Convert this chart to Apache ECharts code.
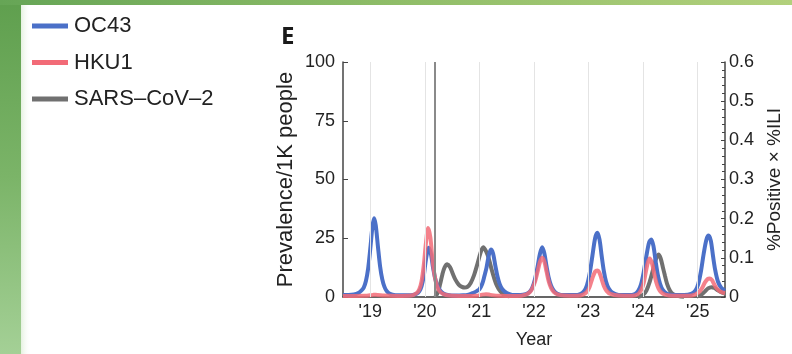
<!DOCTYPE html>
<html>
<head>
<meta charset="utf-8">
<script src="https://cdn.jsdelivr.net/npm/echarts@6/dist/echarts.min.js"></script>
<style>
html,body{margin:0;padding:0;background:#fff;}
#chart{width:792px;height:354px;}
</style>
</head>
<body>
<div id="chart"></div>
<script>
// ---- tick labels / categories ----
const yearTicks = [2019, 2020, 2021, 2022, 2023, 2024, 2025];
const yearLabels = ["'19", "'20", "'21", "'22", "'23", "'24", "'25"];
const leftTicks = [0, 25, 50, 75, 100];
const rightTicks = [0, 0.1, 0.2, 0.3, 0.4, 0.5, 0.6];
const seriesNames = ["OC43", "HKU1", "SARS\u2013CoV\u20132"];
const covidStart = 2020.19;

// ---- OC43 (prevalence per 1K people) ----
const oc43X = [2018.50,2018.60,2018.70,2018.78,2018.84,2018.88,2018.92,2018.96,2019.00,2019.04,2019.07,2019.10,2019.14,2019.18,2019.22,2019.26,2019.30,2019.36,2019.46,2019.60,
  2019.75,2019.85,2019.90,2019.94,2019.98,2020.02,2020.07,2020.11,2020.15,2020.19,2020.23,2020.28,2020.34,2020.42,2020.55,
  2020.70,2020.80,2020.88,2020.95,2021.00,2021.05,2021.09,2021.13,2021.17,2021.21,2021.25,2021.29,2021.33,2021.37,2021.42,2021.50,2021.60,
  2021.75,2021.85,2021.92,2021.97,2022.02,2022.07,2022.11,2022.15,2022.19,2022.23,2022.27,2022.31,2022.36,2022.43,2022.55,
  2022.75,2022.85,2022.92,2022.97,2023.02,2023.07,2023.12,2023.16,2023.20,2023.24,2023.28,2023.32,2023.37,2023.44,2023.55,
  2023.75,2023.85,2023.91,2023.96,2024.01,2024.06,2024.11,2024.15,2024.19,2024.23,2024.27,2024.31,2024.36,2024.43,2024.55,
  2024.75,2024.88,2024.96,2025.01,2025.06,2025.11,2025.16,2025.20,2025.24,2025.28,2025.32,2025.37,2025.43,2025.50];
const oc43Y = [0.9,0.9,1.1,1.7,2.8,4.0,6.8,12.0,20.5,30.0,33.5,30.5,21.5,13.0,7.5,4.3,2.6,1.4,0.8,0.7,
  0.8,1.4,2.5,4.6,9.0,16.0,21.0,18.5,12.5,7.8,4.8,2.8,1.5,0.9,0.6,
  0.7,1.0,1.7,2.5,3.3,5.5,8.8,12.5,17.5,20.2,18.5,13.5,8.8,5.6,3.3,1.7,0.9,
  0.8,1.2,2.2,4.0,7.8,13.5,18.5,21.2,18.5,13.0,8.2,5.0,2.8,1.4,0.8,
  0.8,1.3,2.6,5.0,10.0,17.5,25.0,27.3,24.5,17.5,11.0,6.6,3.6,1.8,0.9,
  0.8,1.3,2.6,5.3,10.5,17.5,23.3,24.5,21.5,15.0,9.3,5.6,3.0,1.5,0.8,
  0.8,1.3,2.8,5.5,11.0,18.5,24.5,26.2,24.0,17.5,11.5,6.6,4.0,2.7];

// ---- HKU1 (prevalence per 1K people) ----
const hku1X = [2018.50,2018.90,2019.05,2019.10,2019.25,2019.50,
  2019.75,2019.85,2019.90,2019.94,2019.98,2020.02,2020.06,2020.10,2020.14,2020.18,2020.22,2020.27,2020.34,2020.45,
  2020.70,2020.95,2021.05,2021.12,2021.20,2021.35,
  2021.70,2021.85,2021.92,2021.97,2022.02,2022.07,2022.11,2022.15,2022.19,2022.23,2022.27,2022.31,2022.36,2022.43,2022.55,
  2022.80,2022.90,2022.97,2023.02,2023.07,2023.12,2023.16,2023.20,2023.24,2023.28,2023.33,2023.40,2023.55,
  2023.80,2023.90,2023.96,2024.01,2024.05,2024.09,2024.12,2024.16,2024.20,2024.24,2024.28,2024.33,2024.40,2024.55,
  2024.85,2024.95,2025.02,2025.08,2025.13,2025.18,2025.22,2025.26,2025.30,2025.35,2025.42,2025.50];
const hku1Y = [0.4,0.5,0.9,1.0,0.6,0.4,
  0.6,1.7,3.4,6.8,13.5,23.0,29.4,25.5,16.0,9.0,4.8,2.5,1.2,0.6,
  0.4,0.5,1.0,1.2,0.9,0.5,
  0.4,1.0,2.0,3.7,6.6,11.2,15.0,16.7,15.0,10.8,6.6,4.0,2.2,1.1,0.6,
  0.5,1.0,2.2,4.4,8.0,10.8,11.3,10.3,7.5,4.7,2.6,1.3,0.6,
  0.5,1.1,2.8,6.0,10.8,15.0,16.4,14.5,10.3,6.3,3.7,2.0,1.0,0.5,
  0.5,1.0,2.0,3.8,6.1,7.6,7.9,7.2,5.5,3.6,2.2,1.6];

// ---- SARS-CoV-2 (prevalence per 1K people); null = no visible signal ----
const covX = [2020.19,2020.24,2020.28,2020.32,2020.36,2020.41,2020.46,2020.51,2020.56,2020.62,2020.68,2020.73,2020.78,2020.84,2020.90,2020.96,2021.02,2021.07,
  2021.12,2021.17,2021.22,2021.27,2021.32,2021.38,2021.45,2021.55,2021.60,
  2023.90,2024.00,2024.06,2024.12,2024.18,2024.23,2024.28,2024.32,2024.36,2024.40,2024.44,2024.49,2024.55,2024.65,2024.75,2024.80,
  2024.98,2025.07,2025.13,2025.19,2025.25,2025.31,2025.37,2025.44,2025.50];
const covY = [0.0,2.0,5.5,9.5,12.5,13.9,12.8,10.0,7.4,5.3,4.3,4.0,4.3,6.0,9.2,13.8,18.8,21.2,
  19.5,16.5,12.0,8.0,4.8,2.5,0.9,0.3,null,
  0.0,0.9,2.7,6.4,11.5,15.8,18.1,16.5,12.8,9.0,5.5,2.8,1.2,0.4,0.1,null,
  0.2,1.0,2.3,3.7,4.2,3.8,2.8,1.9,1.4];

const pairs = (xs, ys) => xs.map((x, i) => [x, ys[i] === null ? '-' : ys[i]]);

const FONT = "'Liberation Sans', Arial, sans-serif";
const AXIS_COLOR = '#444';
const TEXT_COLOR = '#222';

const chart = echarts.init(document.getElementById('chart'), null, {renderer: 'canvas'});

const option = {
  backgroundColor: '#ffffff',
  animation: false,
  graphic: [
    {type: 'rect', left: 0, top: 0, z: -10, shape: {width: 21, height: 354},
     style: {fill: new echarts.graphic.LinearGradient(0, 0, 0, 1, [
       {offset: 0, color: '#5f9f4e'}, {offset: 0.5, color: '#7bb468'}, {offset: 1, color: '#a4d096'}])}},
    {type: 'rect', left: 21, top: 5, z: -10, shape: {width: 10, height: 349},
     style: {fill: new echarts.graphic.LinearGradient(0, 0, 1, 0, [
       {offset: 0, color: 'rgba(150,200,130,0.25)'}, {offset: 1, color: 'rgba(255,255,255,0)'}])}},
    {type: 'rect', left: 0, top: 0, z: -10, shape: {width: 792, height: 5},
     style: {fill: new echarts.graphic.LinearGradient(0, 0, 1, 0, [
       {offset: 0, color: '#66a556'}, {offset: 0.5, color: '#8fbd68'}, {offset: 1, color: '#b2d07c'}])}}
  ],
  title: {
    text: 'E', left: 276, top: 20,
    textStyle: {fontSize: 24, fontWeight: 'bold', color: '#1a1a1a', fontFamily: "'Open Sans', 'Liberation Sans', sans-serif"}
  },
  legend: {
    data: seriesNames,
    orient: 'vertical', left: 27, top: 10,
    icon: 'rect', itemWidth: 36, itemHeight: 5, itemGap: 14.5,
    textStyle: {fontSize: 22, lineHeight: 22, color: TEXT_COLOR, fontFamily: FONT, padding: [0, 0, 0, 1]}
  },
  grid: {left: 343, right: 67, top: 62, bottom: 56, containLabel: false},
  xAxis: {
    type: 'value', min: 2018.5, max: 2025.5,
    name: 'Year', nameLocation: 'middle', nameGap: 34,
    nameTextStyle: {fontSize: 18, color: TEXT_COLOR, fontFamily: FONT},
    axisLine: {show: true, lineStyle: {color: '#333', width: 1.5}},
    axisTick: {show: true, inside: true, length: 4, customValues: yearTicks, lineStyle: {color: '#333'}},
    axisLabel: {
      customValues: yearTicks, margin: 6, fontSize: 18, color: TEXT_COLOR, fontFamily: FONT,
      formatter: v => { const i = yearTicks.indexOf(Math.round(v)); return i >= 0 ? yearLabels[i] : ''; }
    },
    splitLine: {show: false}
  },
  yAxis: [
    {
      type: 'value', min: 0, max: 100, interval: 25, position: 'left',
      name: 'Prevalence/1K people', nameLocation: 'middle', nameGap: 46, nameRotate: 90,
      nameTextStyle: {fontSize: 22, color: TEXT_COLOR, fontFamily: FONT},
      axisLine: {show: true, lineStyle: {color: AXIS_COLOR, width: 1.5}},
      axisTick: {show: true, inside: true, length: 5, lineStyle: {color: AXIS_COLOR}},
      axisLabel: {margin: 8, fontSize: 18, color: TEXT_COLOR, fontFamily: FONT,
        formatter: v => leftTicks.includes(v) ? String(v) : ''},
      splitLine: {show: false}
    },
    {
      type: 'value', min: 0, max: 0.6, interval: 0.1, position: 'right',
      name: '%Positive \u00d7 %ILI', nameLocation: 'middle', nameGap: 40, nameRotate: 90,
      nameTextStyle: {fontSize: 19, color: TEXT_COLOR, fontFamily: FONT},
      axisLine: {show: true, lineStyle: {color: AXIS_COLOR, width: 1.5}},
      axisTick: {show: true, inside: true, length: 4, lineStyle: {color: AXIS_COLOR}},
      minorTick: {show: true, splitNumber: 5, length: 3, lineStyle: {color: AXIS_COLOR}},
      axisLabel: {margin: 4, fontSize: 18, color: TEXT_COLOR, fontFamily: FONT,
        formatter: v => { const r = rightTicks.find(t => Math.abs(t - v) < 1e-9); return r === undefined ? '' : (r === 0 ? '0' : r.toFixed(1)); }},
      splitLine: {show: false}
    }
  ],
  series: [
    {
      name: 'yearGrid', type: 'line', data: [], z: 0, silent: true,
      markLine: {
        silent: true, symbol: 'none', label: {show: false},
        lineStyle: {color: '#e4e4e4', width: 1, type: 'solid'},
        data: yearTicks.map(y => ({xAxis: y}))
      }
    },
    {
      name: 'covidMarker', type: 'line', data: [], z: 1, silent: true,
      markLine: {
        silent: true, symbol: 'none', label: {show: false},
        lineStyle: {color: '#8a8a8a', width: 2, type: 'solid'},
        data: [{xAxis: covidStart}]
      }
    },
    {
      name: seriesNames[2], type: 'line', data: pairs(covX, covY), smooth: 0.3, connectNulls: false,
      showSymbol: false, symbol: 'none', color: '#707070',
      lineStyle: {width: 4, color: '#707070'}, z: 2
    },
    {
      name: seriesNames[0], type: 'line', data: pairs(oc43X, oc43Y), smooth: 0.3,
      showSymbol: false, symbol: 'none', color: '#4b70c8',
      lineStyle: {width: 4, color: '#4b70c8'}, z: 3
    },
    {
      name: seriesNames[1], type: 'line', data: pairs(hku1X, hku1Y), smooth: 0.3,
      showSymbol: false, symbol: 'none', color: '#f26b77',
      lineStyle: {width: 4, color: '#f26b77', opacity: 0.85}, z: 4
    }
  ]
};
chart.setOption(option);
</script>
</body>
</html>
